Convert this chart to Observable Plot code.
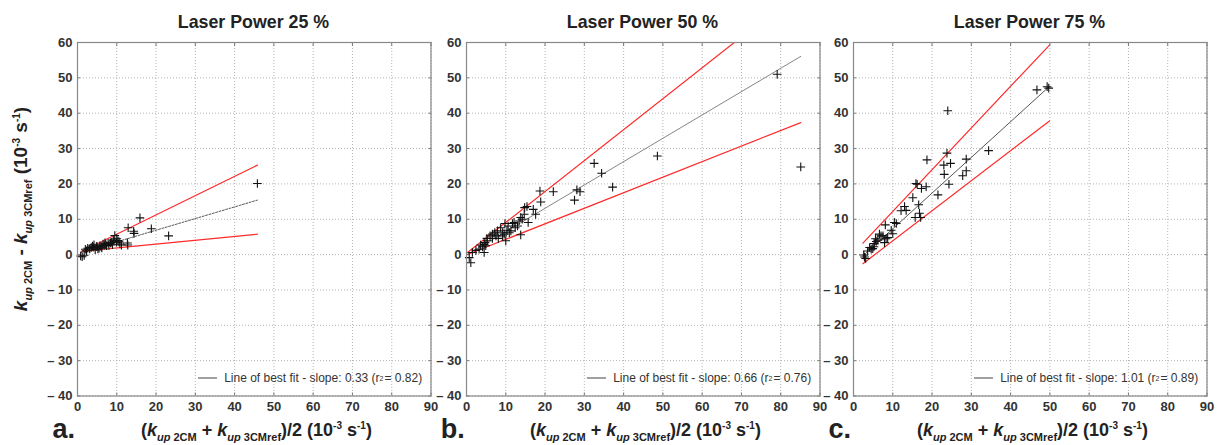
<!DOCTYPE html>
<html><head><meta charset="utf-8">
<script src="https://cdn.jsdelivr.net/npm/d3@7"></script>
<script src="https://cdn.jsdelivr.net/npm/@observablehq/plot@0.6"></script>
<style>
html,body{margin:0;padding:0;background:#fff;}
#wrap{position:relative;width:1222px;height:445px;overflow:hidden;font-family:"Liberation Sans",Arial,sans-serif;color:#222;}
#wrap svg{position:absolute;top:0;max-width:none;}
.lbl{position:absolute;white-space:nowrap;transform:translate(-50%,-50%);}
.title{font-weight:bold;font-size:17.8px;color:#222;}
.letter{font-weight:bold;font-size:27px;color:#222;}
.axl{font-weight:bold;font-size:18px;color:#222;}
.axl sub{font-size:11px;vertical-align:-5px;}
.axl sup{font-size:10px;vertical-align:7px;}
.leg{position:absolute;white-space:nowrap;font-size:12px;color:#333;transform:translate(-100%,-50%);display:flex;align-items:center;}
.leg span.ln{display:inline-block;width:19px;height:0;border-top:2px solid #a0a0a0;margin-right:7px;}
.leg sup{font-size:7px;vertical-align:4px;margin-right:1px;}
</style></head>
<body><div id="wrap"></div>
<script>
// ---- data ----
const panelTitles = ["Laser Power 25 %", "Laser Power 50 %", "Laser Power 75 %"];
const panelLetters = ["a.", "b.", "c."];
const xTicks = [0, 10, 20, 30, 40, 50, 60, 70, 80, 90];
const yTicks = [-40, -30, -20, -10, 0, 10, 20, 30, 40, 50, 60];

const xA = [45.8,15.9,12.9,14.3,14.4,18.8,23.2,12.7,12.8,9.5,1.2,0.8,1.7,2.3,3.1,4.0,4.8,5.7,6.5,7.4,7.8,8.7,9.1,9.9,10.3,10.8,2.6,3.5,4.5,5.0,5.5,6.0,6.8,7.2,8.0,8.4,9.3,10.0,10.6,11.2,3.8,5.2,6.2,7.0,8.9,2.0,4.2];
const yA = [20.1,10.4,7.6,6.6,6.0,7.3,5.3,3.3,2.7,5.4,-0.6,-0.4,-0.2,1.1,1.6,2.1,2.3,2.5,3.0,2.5,3.2,3.5,4.1,3.5,4.0,3.0,1.8,2.0,1.4,2.3,1.8,2.2,2.6,2.9,2.6,3.3,3.8,4.5,3.6,2.7,2.4,1.6,1.9,3.3,2.8,1.5,2.8];

const xB = [79.1,85.1,48.6,32.5,34.4,37.2,28.1,28.9,27.5,22.1,18.7,18.9,17.0,17.6,15.4,14.8,15.7,13.8,10.0,4.5,1.1,0.7,13.8,13.4,12.4,11.3,10.3,9.8,9.2,8.1,7.5,6.6,6.6,5.3,4.7,4.5,4.1,3.2,2.4,1.5,10.6,11.7,13.0,14.2,8.7,7.9,7.2,6.0,5.2,3.6,4.9,10.9,9.6,14.7,12.1,9.2];
const yB = [51.0,24.8,27.9,25.8,23.0,19.1,18.3,17.8,15.4,17.8,18.0,14.9,12.8,11.4,13.6,13.3,9.1,5.6,3.9,0.6,-2.3,-0.85,10.5,9.5,7.6,6.7,6.9,8.8,6.2,4.6,5.3,5.8,4.6,3.9,3.4,2.9,2.2,1.5,1.2,0.6,8.1,8.8,8.1,10.0,7.6,6.7,6.2,5.3,4.6,2.7,2.5,6.2,5.8,11.4,9.1,5.3];

const xC = [46.7,49.7,49.3,24.0,23.8,18.7,24.7,23.0,28.7,34.4,28.7,23.1,27.8,15.9,16.2,24.3,18.5,17.3,21.5,15.1,16.6,13.0,13.4,12.1,16.8,15.7,17.1,10.4,8.1,9.6,10.0,7.9,7.5,6.6,8.3,5.6,5.2,4.9,6.2,2.6,3.1,3.6,4.5,5.3,5.8,7.0,8.7,10.9,4.1,2.8];
const yC = [46.6,47.1,47.5,40.7,28.7,26.8,25.8,25.3,27.0,29.4,23.7,22.7,22.3,20.1,19.9,19.9,19.2,18.7,16.9,16.1,14.1,13.6,12.5,12.4,11.7,10.5,10.5,9.1,8.4,6.9,5.9,3.4,5.3,5.8,4.5,4.5,2.2,1.7,4.1,-0.1,-1.1,1.0,1.5,3.1,3.7,5.3,4.8,8.8,2.0,-0.7];

// fitted lines: x range, best-fit slope/intercept, upper & lower limit slope/intercept
const lineXRange = [[1.0, 45.8], [0.25, 85.1], [2.4, 49.9]];
const fitSlope = [0.33, 0.66, 1.01];
const fitIntercept = [0.3, -0.1, -2.8];
const upperSlope = [0.545, 0.875, 1.18];
const upperIntercept = [0.35, 0.35, 0.4];
const lowerSlope = [0.109, 0.44, 0.85];
const lowerIntercept = [0.79, -0.1, -4.6];
const r2 = ["0.82", "0.76", "0.89"];
const slopeLabel = ["0.33", "0.66", "1.01"];

// ---- layout ----
const frameLeft = [76.7, 465.7, 852.7];
const frameW = 353.5, mL = 77, mR = 10, mT = 42, mB = 49.5, H = 445;
const wrap = document.getElementById("wrap");
const xs = [xA, xB, xC], ys = [yA, yB, yC];
const yFmt = d => d < 0 ? "\u2013 " + Math.abs(d) : String(d);

function lineData(i, s, b) {
  return lineXRange[i].map(x => ({x, y: s * x + b}));
}

for (let i = 0; i < 3; i++) {
  const pts = xs[i].map((x, j) => ({x, y: ys[i][j]}));
  const chart = Plot.plot({
    width: mL + frameW + mR, height: H,
    marginLeft: mL, marginRight: mR, marginTop: mT, marginBottom: mB,
    style: {background: "none", fontFamily: "Liberation Sans, Arial, sans-serif"},
    x: {domain: [0, 90], ticks: xTicks},
    y: {domain: [-40, 60], ticks: yTicks},
    marks: [
      Plot.gridX(xTicks, {stroke: "#b5b5b5", strokeOpacity: 1, strokeDasharray: "1,2"}),
      Plot.gridY(yTicks, {stroke: "#b5b5b5", strokeOpacity: 1, strokeDasharray: "1,2"}),
      Plot.axisX(xTicks, {anchor: "bottom", tickSize: 0, tickPadding: 6, label: null}),
      Plot.axisY(yTicks, {anchor: "left", tickSize: 0, tickPadding: 5, label: null, tickFormat: yFmt}),
      Plot.axisX(xTicks, {anchor: "bottom", tickSize: -3, tickFormat: () => "", label: null, stroke: "#777"}),
      Plot.axisX(xTicks, {anchor: "top", tickSize: -3, tickFormat: () => "", label: null, stroke: "#777"}),
      Plot.axisY(yTicks, {anchor: "left", tickSize: -3, tickFormat: () => "", label: null, stroke: "#777"}),
      Plot.axisY(yTicks, {anchor: "right", tickSize: -3, tickFormat: () => "", label: null, stroke: "#777"}),
      Plot.line(lineData(i, upperSlope[i], upperIntercept[i]), {x: "x", y: "y", stroke: "#ff2a2a", strokeWidth: 1.2, clip: true}),
      Plot.line(lineData(i, lowerSlope[i], lowerIntercept[i]), {x: "x", y: "y", stroke: "#ff2a2a", strokeWidth: 1.2, clip: true}),
      Plot.line(lineData(i, fitSlope[i], fitIntercept[i]), {x: "x", y: "y", stroke: i === 1 ? "#777" : "#444", strokeWidth: 0.9, strokeDasharray: i === 0 ? "2,1.5" : null, clip: true}),
      Plot.dot(pts, {x: "x", y: "y", symbol: "plus", r: 2.9, stroke: "#111", strokeWidth: 1.1}),
      Plot.frame({stroke: "#888", strokeWidth: 1.2})
    ]
  });
  d3.select(chart).selectAll("text")
    .style("font-size", "13px").style("font-weight", "bold")
    .style("font-family", "'Liberation Sans', Arial, sans-serif").style("fill", "#333");
  chart.style.left = (frameLeft[i] - mL) + "px";
  wrap.appendChild(chart);

  const cx = frameLeft[i] + frameW / 2;
  const t = document.createElement("div");
  t.className = "lbl title"; t.textContent = panelTitles[i];
  t.style.left = cx + "px"; t.style.top = "22px";
  wrap.appendChild(t);

  const l = document.createElement("div");
  l.className = "lbl letter"; l.textContent = panelLetters[i];
  l.style.left = (frameLeft[i] - 13) + "px"; l.style.top = "429px";
  wrap.appendChild(l);

  const xl = document.createElement("div");
  xl.className = "lbl axl";
  xl.innerHTML = "(<i>k</i><sub><i>up</i> 2CM</sub> + <i>k</i><sub><i>up</i> 3CMref</sub>)/2 (10<sup>-3</sup> s<sup>-1</sup>)";
  xl.style.left = (cx + 3) + "px"; xl.style.top = "431px";
  wrap.appendChild(xl);

  const lg = document.createElement("div");
  lg.className = "leg";
  lg.innerHTML = '<span class="ln"></span>Line of best fit - slope: ' + slopeLabel[i] + ' (r<sup>2</sup> = ' + r2[i] + ')';
  lg.style.left = (frameLeft[i] + frameW - 8) + "px"; lg.style.top = "378px";
  wrap.appendChild(lg);
}

const yl = document.createElement("div");
yl.className = "lbl axl";
yl.style.fontSize = "19px";
yl.innerHTML = "<i>k</i><sub><i>up</i> 2CM</sub> - <i>k</i><sub><i>up</i> 3CMref</sub> (10<sup>-3</sup> s<sup>-1</sup>)";
yl.style.left = "22px"; yl.style.top = "209px";
yl.style.transform = "translate(-50%,-50%) rotate(-90deg)";
wrap.appendChild(yl);
</script></body></html>
